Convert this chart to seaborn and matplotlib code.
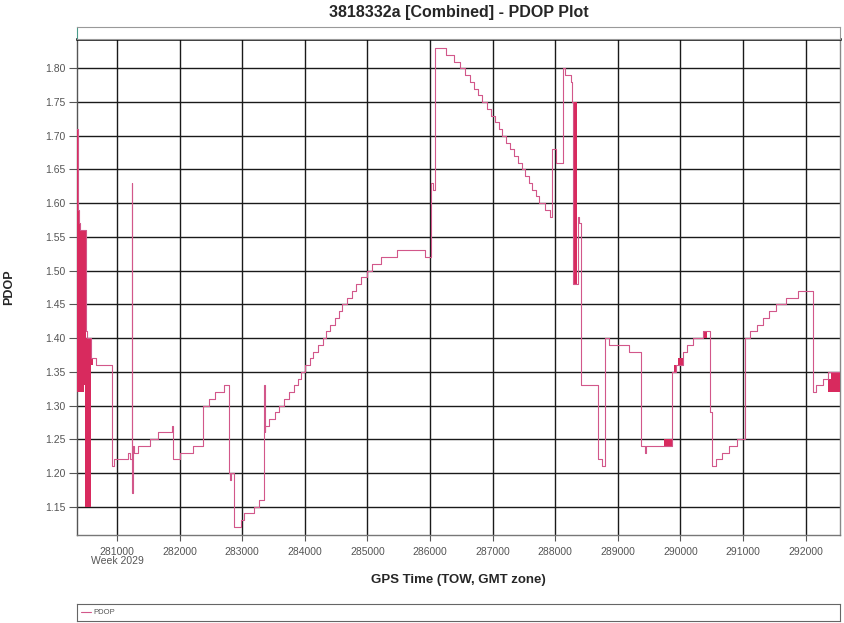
import pandas as pd
import seaborn as sns
import matplotlib.pyplot as plt
from matplotlib.lines import Line2D

# === Datos: PDOP en escalones (TOW en segundos, valor hasta el siguiente punto) ===
tow = [280360, 280376, 280392, 280408, 280500, 280520, 280584, 280664, 280915, 280950,
       281171, 281205, 281240, 281246, 281252, 281265, 281336, 281528, 281661, 281880,
       281888, 282008, 282221, 282381, 282461, 282568, 282701, 282792, 282805, 282820,
       282861, 282979, 283032, 283181, 283265, 283355, 283362, 283370, 283421, 283528,
       283581, 283661, 283741, 283821, 283885, 283944, 284008, 284088, 284131, 284211,
       284291, 284340, 284400, 284475, 284540, 284600, 284680, 284750, 284820, 284900,
       284990, 285080, 285210, 285480, 285912, 286008, 286050, 286072, 286248, 286381,
       286477, 286557, 286637, 286701, 286765, 286835, 286915, 286968, 287032, 287101,
       287155, 287208, 287277, 287341, 287405, 287475, 287512, 287581, 287635, 287688,
       287741, 287832, 287912, 287950, 288008, 288125, 288150, 288248, 288275, 288290,
       288360, 288373, 288411, 288685, 288755, 288792, 288861, 289181, 289368, 289440,
       289452, 289864, 289930, 290035, 290104, 290195, 290360, 290472, 290500, 290568,
       290659, 290776, 290904, 291030, 291120, 291220, 291320, 291420, 291535, 291688,
       291875, 292115, 292168, 292275, 292365, 292560]
pdop = [1.71, 1.59, 1.57, 1.56, 1.41, 1.40, 1.37, 1.36, 1.21, 1.22,
        1.23, 1.22, 1.63, 1.17, 1.24, 1.23, 1.24, 1.25, 1.26, 1.27,
        1.22, 1.23, 1.24, 1.30, 1.31, 1.32, 1.33, 1.20, 1.19, 1.20,
        1.12, 1.13, 1.14, 1.15, 1.16, 1.33, 1.26, 1.27, 1.28, 1.29,
        1.30, 1.31, 1.32, 1.33, 1.34, 1.35, 1.36, 1.37, 1.38, 1.39,
        1.40, 1.41, 1.42, 1.43, 1.44, 1.45, 1.46, 1.47, 1.48, 1.49,
        1.50, 1.51, 1.52, 1.53, 1.52, 1.63, 1.62, 1.83, 1.82, 1.81,
        1.80, 1.79, 1.78, 1.77, 1.76, 1.75, 1.74, 1.73, 1.72, 1.71,
        1.70, 1.69, 1.68, 1.67, 1.66, 1.65, 1.64, 1.63, 1.62, 1.61,
        1.60, 1.59, 1.58, 1.68, 1.66, 1.80, 1.79, 1.78, 1.75, 1.48,
        1.58, 1.57, 1.33, 1.22, 1.21, 1.40, 1.39, 1.38, 1.24, 1.23,
        1.24, 1.35, 1.36, 1.38, 1.39, 1.40, 1.41, 1.29, 1.21, 1.22,
        1.23, 1.24, 1.25, 1.40, 1.41, 1.42, 1.43, 1.44, 1.45, 1.46,
        1.47, 1.32, 1.33, 1.34, 1.35, 1.35]

# Tramos donde el PDOP oscila muy rapido (envolvente min/max)
burst_start = [280360, 280378, 280394, 280410, 280470, 280490, 280584,
               288284, 289741, 289891, 289955, 290355, 292365, 292400]
burst_end = [280378, 280394, 280410, 280470, 280505, 280584, 280610,
             288355, 289859, 289928, 290035, 290424, 292400, 292557]
burst_low = [1.32, 1.32, 1.32, 1.32, 1.33, 1.15, 1.36,
             1.48, 1.24, 1.35, 1.36, 1.40, 1.32, 1.32]
burst_high = [1.71, 1.59, 1.57, 1.56, 1.56, 1.40, 1.37,
              1.75, 1.25, 1.36, 1.37, 1.41, 1.34, 1.35]

y_ticks = [1.15, 1.20, 1.25, 1.30, 1.35, 1.40, 1.45, 1.50, 1.55, 1.60, 1.65, 1.70, 1.75, 1.80]
x_ticks = [281000, 282000, 283000, 284000, 285000, 286000, 287000, 288000,
           289000, 290000, 291000, 292000]
x_tick_labels = ["281000\nWeek 2029", "282000", "283000", "284000", "285000", "286000",
                 "287000", "288000", "289000", "290000", "291000", "292000"]

df = pd.DataFrame({"tow": tow, "pdop": pdop})

sns.set_style("white")
plt.rcParams["font.family"] = ["Liberation Sans", "DejaVu Sans"]

line_color = "#D2578A"
burst_color = "#D82A5E"

W, H = 844, 623
fig = plt.figure(figsize=(W / 100, H / 100), dpi=100)
ax = fig.add_axes([77 / W, 1 - 535 / H, 763 / W, 496 / H])

# bandas densas
ax.bar(burst_start, [h - l for h, l in zip(burst_high, burst_low)],
       bottom=burst_low, width=[e - s for s, e in zip(burst_start, burst_end)],
       align="edge", color=burst_color, linewidth=0, zorder=3)

sns.lineplot(data=df, x="tow", y="pdop", estimator=None, sort=False,
             drawstyle="steps-post", color=line_color, linewidth=0.8,
             legend=False, ax=ax, zorder=4)

ax.set_xlim(280360, 292550)
ax.set_ylim(1.108, 1.8435)
ax.set_yticks(y_ticks)
ax.set_yticklabels([f"{v:.2f}" for v in y_ticks])
ax.set_xticks(x_ticks)
ax.set_xticklabels(x_tick_labels, linespacing=0.95)

ax.grid(True, color="#1a1a1a", linewidth=1.0)
ax.set_axisbelow(True)
ax.tick_params(axis="y", length=6, width=0.8, color="#555555", labelsize=7.5,
               labelcolor="#555555", pad=2, left=True)
ax.tick_params(axis="x", length=4.5, width=0.8, color="#555555", labelsize=7.5,
               labelcolor="#555555", pad=4, bottom=True)

for side, col in [("left", "#555555"), ("right", "#888888"), ("bottom", "#777777")]:
    ax.spines[side].set_color(col)
    ax.spines[side].set_linewidth(1.0)
ax.spines["top"].set_color("black")
ax.spines["top"].set_linewidth(1.8)

ax.set_ylabel("PDOP", fontsize=9, fontweight="bold")
ax.yaxis.set_label_coords((15 - 77) / 763, 0.5)
ax.set_xlabel("GPS Time (TOW, GMT zone)", fontsize=9.5, fontweight="bold")
ax.xaxis.label.set_va("center")
ax.xaxis.set_label_coords(0.5, (535 - 580) / 496)

fig.text(458.5 / W, 1 - 12 / H, "3818332a [Combined] - PDOP Plot",
         ha="center", va="center", fontsize=11.5, fontweight="bold")

# franja superior vacia
strip = fig.add_axes([77 / W, 1 - 39 / H, 763 / W, 12 / H])
strip.set_xticks([])
strip.set_yticks([])
for side in strip.spines:
    strip.spines[side].set_color("#999999")
    strip.spines[side].set_linewidth(0.8)
strip.spines["left"].set_color("#4a9a8a")

# caja de leyenda
lax = fig.add_axes([77 / W, 1 - 621 / H, 763 / W, 17 / H])
lax.set_xticks([])
lax.set_yticks([])
for side in lax.spines:
    lax.spines[side].set_color("#666666")
    lax.spines[side].set_linewidth(0.8)
leg = lax.legend(handles=[Line2D([0], [0], color=line_color, linewidth=0.8)],
                 labels=["PDOP"], loc="center left", frameon=False, fontsize=5.5,
                 handlelength=1.3, handletextpad=0.4, borderaxespad=0.1)
for t in leg.get_texts():
    t.set_color("#555555")

fig.savefig("out.png", dpi=100)
plt.close()
